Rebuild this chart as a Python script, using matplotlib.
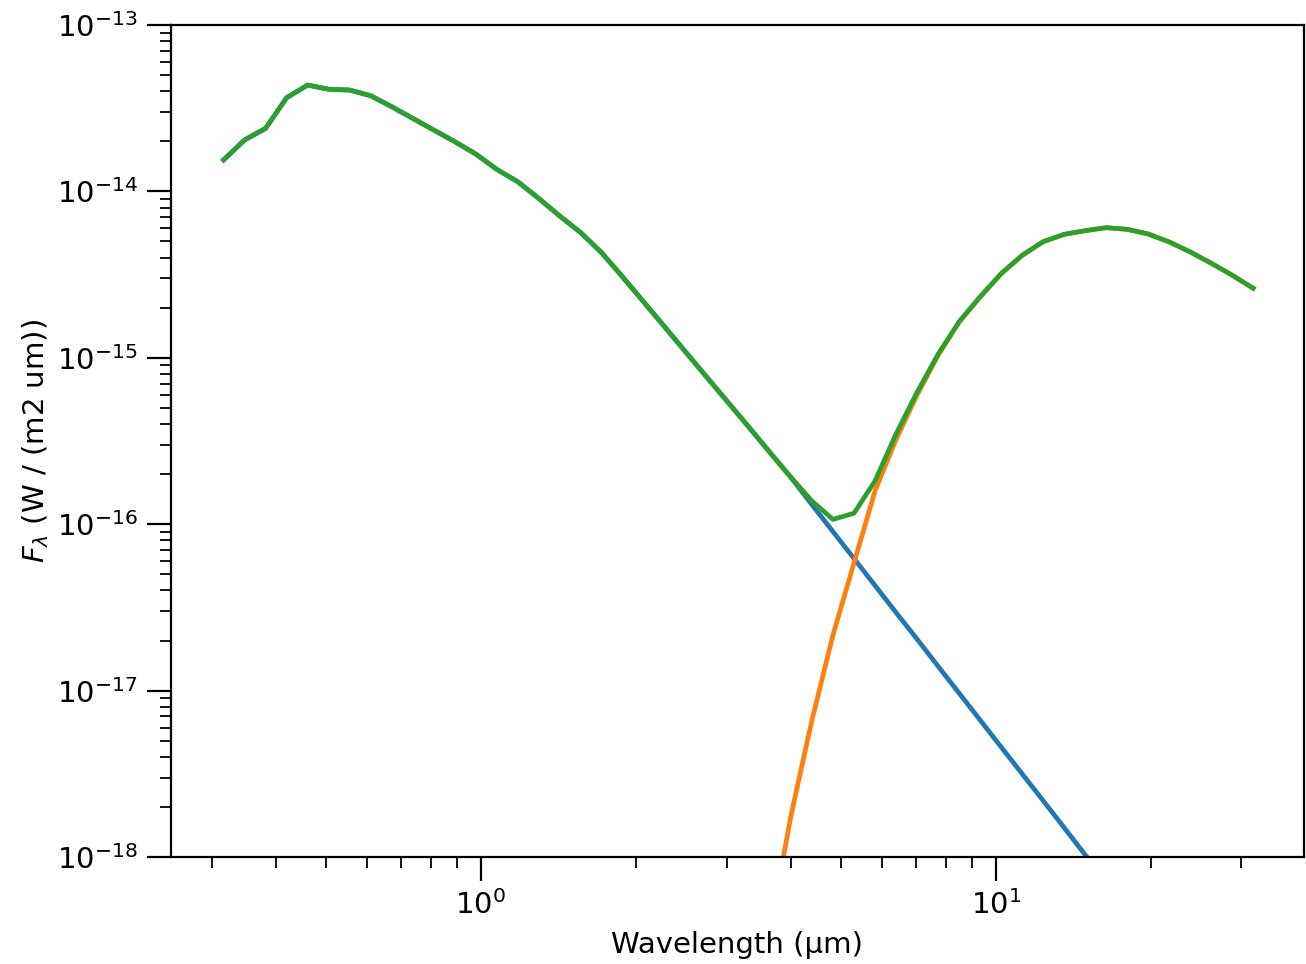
import matplotlib
matplotlib.use("Agg")
import matplotlib.pyplot as plt
from matplotlib.ticker import LogLocator, NullFormatter, FixedLocator

# Wavelength grid (micron)
wavelength = [0.3162, 0.3474, 0.3817, 0.4193, 0.4606, 0.5060, 0.5559, 0.6107,
              0.6709, 0.7371, 0.8097, 0.8892, 0.9768, 1.0730, 1.1788, 1.2950,
              1.4227, 1.5630, 1.7170, 1.8863, 2.0723, 2.2762, 2.5006, 2.7471,
              3.0179, 3.3154, 3.6421, 4.0012, 4.3957, 4.8289, 5.3049, 5.8279,
              6.399, 7.0334, 7.7268, 8.4884, 9.3252, 10.2446, 11.2543, 12.3638,
              13.5823, 14.9213, 16.3922, 18.0076, 19.7826, 21.7323, 23.8745,
              26.2280, 28.8130, 31.6228]

# Stellar photosphere (blue)
star_flux = [1.545e-14, 2.037e-14, 2.393e-14, 3.656e-14, 4.355e-14, 4.111e-14,
             4.064e-14, 3.758e-14, 3.228e-14, 2.748e-14, 2.339e-14, 1.991e-14,
             1.679e-14, 1.358e-14, 1.143e-14, 9.08e-15, 7.11e-15, 5.65e-15,
             4.27e-15, 3.05e-15, 2.16e-15, 1.53e-15, 1.08e-15, 7.64e-16,
             5.41e-16, 3.83e-16, 2.70e-16, 1.91e-16, 1.309e-16, 9.02e-17,
             6.22e-17, 4.28e-17, 2.95e-17, 2.04e-17, 1.40e-17, 9.66e-18,
             6.65e-18, 4.58e-18, 3.16e-18, 2.18e-18, 1.50e-18, 1.03e-18,
             7.11e-19, 4.90e-19, 3.39e-19, 2.34e-19, 1.62e-19, 1.10e-19,
             7.59e-20, 5.25e-20]

# Dust blackbody (orange), starting at wavelength index 25
dust_start = 25
dust_flux = [5.0e-20, 3.6e-19, 1.77e-18, 6.65e-18, 2.16e-17, 5.85e-17,
             1.585e-16, 3.22e-16, 5.97e-16, 1.035e-15, 1.637e-15, 2.317e-15,
             3.199e-15, 4.127e-15, 4.987e-15, 5.519e-15, 5.807e-15, 6.052e-15,
             5.916e-15, 5.546e-15, 4.966e-15, 4.325e-15, 3.698e-15, 3.133e-15,
             2.618e-15]

# Total (green)
total_flux = [1.545e-14, 2.037e-14, 2.393e-14, 3.656e-14, 4.355e-14, 4.111e-14,
              4.064e-14, 3.758e-14, 3.228e-14, 2.748e-14, 2.339e-14, 1.991e-14,
              1.679e-14, 1.358e-14, 1.143e-14, 9.08e-15, 7.11e-15, 5.65e-15,
              4.27e-15, 3.05e-15, 2.16e-15, 1.53e-15, 1.08e-15, 7.64e-16,
              5.41e-16, 3.83e-16, 2.70e-16, 1.91e-16, 1.377e-16, 1.069e-16,
              1.164e-16, 1.820e-16, 3.475e-16, 6.21e-16, 1.050e-15, 1.648e-15,
              2.328e-15, 3.206e-15, 4.130e-15, 4.989e-15, 5.521e-15, 5.808e-15,
              6.053e-15, 5.916e-15, 5.546e-15, 4.966e-15, 4.325e-15, 3.698e-15,
              3.133e-15, 2.618e-15]

y_major_ticks = [1e-18, 1e-17, 1e-16, 1e-15, 1e-14, 1e-13]
x_major_ticks = [1, 10]

fig = plt.figure(figsize=(13.06, 9.64), dpi=100)
ax = fig.add_axes([171/1306, 107/964, 1133/1306, 832/964])

lw = 3.4
ax.plot(wavelength, star_flux, color="tab:blue", lw=lw)
ax.plot(wavelength[dust_start:], dust_flux, color="tab:orange", lw=lw)
ax.plot(wavelength, total_flux, color="tab:green", lw=lw)

ax.set_xscale("log")
ax.set_yscale("log")
ax.set_xlim(0.25, 39.7)
ax.set_ylim(1e-18, 1e-13)

ax.yaxis.set_major_locator(FixedLocator(y_major_ticks))
ax.xaxis.set_major_locator(FixedLocator(x_major_ticks))
ax.yaxis.set_minor_locator(LogLocator(base=10, subs=range(2, 10), numticks=50))
ax.xaxis.set_minor_locator(LogLocator(base=10, subs=range(2, 10), numticks=50))
ax.xaxis.set_minor_formatter(NullFormatter())
ax.yaxis.set_minor_formatter(NullFormatter())

ax.tick_params(which="major", direction="out", length=17, width=1.6,
               labelsize=21, pad=7)
ax.tick_params(which="minor", direction="out", length=8, width=1.3)
for s in ax.spines.values():
    s.set_linewidth(1.6)

ax.set_xlabel("Wavelength (µm)", fontsize=21, labelpad=8)
ax.set_ylabel(r"$F_\lambda$ (W / (m2 um))", fontsize=21)

fig.savefig("out.png", dpi=100)
